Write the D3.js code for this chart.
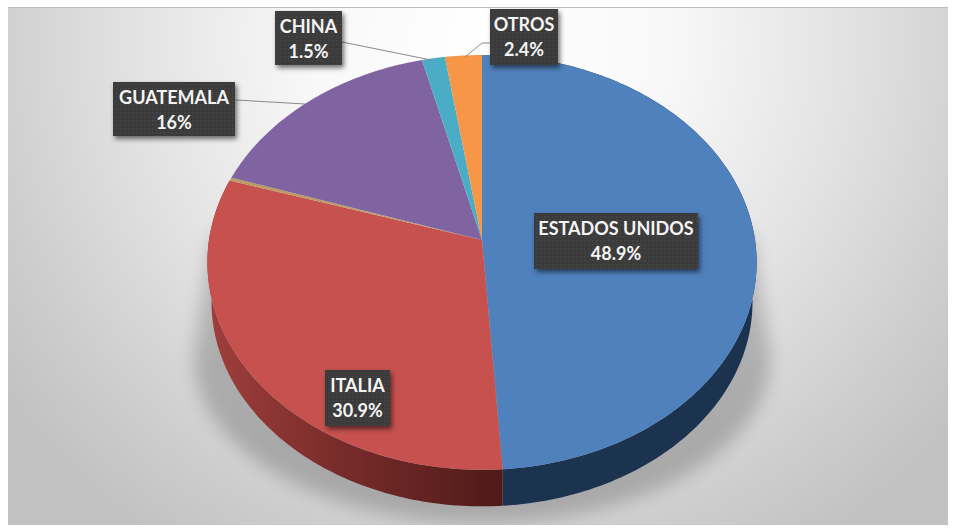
<!DOCTYPE html>
<html><head><meta charset="utf-8">
<script src="https://cdn.jsdelivr.net/npm/d3@7"></script>
<style>html,body{margin:0;background:#fff}svg{display:block}</style></head>
<body><svg width="956" height="529"></svg>
<script>
const categories=["ESTADOS UNIDOS","ITALIA","","GUATEMALA","CHINA","OTROS"];
const shares=[48.9,30.9,0.25,16,1.5,2.4];
const valueLabels=["48.9%","30.9%","","16%","1.5%","2.4%"];
const topColors=["#4f81bd","#c6514f","#bd9a60","#8064a2","#4bacc6","#f79646"];
const labelBoxes=[[534,213,164,56],[325,370,65,56],null,[113,82,122,54],[275,11,67,54],[490,9,68,56]];
const leaders=[null,null,null,[[236,100],[305,104]],[[342,42],[431,60]],[[490,43],[482,43],[465,57]]];

const svg=d3.select("svg");
const defs=svg.append("defs");
const bg=defs.append("radialGradient").attr("id","bg").attr("gradientUnits","userSpaceOnUse")
 .attr("cx",490).attr("cy",40).attr("r",600);
[[0,"#ffffff"],[.3,"#f8f8f8"],[.6,"#e2e2e2"],[.85,"#cdcdcd"],[1,"#c2c2c2"]].forEach(s=>bg.append("stop").attr("offset",s[0]).attr("stop-color",s[1]));
const gr=defs.append("linearGradient").attr("id","wallRed").attr("gradientUnits","userSpaceOnUse").attr("x1",205).attr("x2",503).attr("y1",0).attr("y2",0);
[[0,"#a03f3d"],[.4,"#7c2e2c"],[1,"#4e1a18"]].forEach(s=>gr.append("stop").attr("offset",s[0]).attr("stop-color",s[1]));
defs.append("filter").attr("id","blur").attr("x","-20%").attr("y","-20%").attr("width","140%").attr("height","140%").append("feGaussianBlur").attr("stdDeviation",9);
const f=defs.append("filter").attr("id","bs").attr("x","-20%").attr("y","-20%").attr("width","150%").attr("height","150%");
f.append("feDropShadow").attr("dx",2).attr("dy",3).attr("stdDeviation",2.5).attr("flood-color","#000").attr("flood-opacity",.55);
const pat=defs.append("pattern").attr("id","dots").attr("width",4).attr("height",4).attr("patternUnits","userSpaceOnUse");
pat.append("rect").attr("width",4).attr("height",4).attr("fill","#3a3a3a");
pat.append("rect").attr("width",1.5).attr("height",1.5).attr("fill","#474747");

svg.append("rect").attr("x",8).attr("y",8).attr("width",940).attr("height",517).attr("fill","url(#bg)");
svg.append("line").attr("x1",8).attr("x2",948).attr("y1",7.5).attr("y2",7.5).attr("stroke","#bdbdbd");

// perspective projection of the pie disc
const cx=482,cy=240,R=273,B=205,K=.108,D=40;
function proj(a,drop=0,sc=1){const X=Math.sin(a),Y=-Math.cos(a),s=1/(1-K*Y);
 return [cx+R*sc*X*s, cy+B*sc*Y*s+drop];}
const pie=d3.pie().sort(null)(shares);
function arcPts(d,drop,sc){const n=Math.max(2,Math.ceil((d.endAngle-d.startAngle)*60));
 return d3.range(n+1).map(i=>proj(d.startAngle+(d.endAngle-d.startAngle)*i/n,drop,sc));}
const line=d3.line();
// shadow: wedge widening below the disc, clipped to the plot area
const clip=defs.append("clipPath").attr("id","sc");
clip.append("rect").attr("x",8).attr("y",8).attr("width",940).attr("height",517);
const shadowPts=[[752,235]].concat(d3.range(0,61).map(i=>{const a=Math.PI/2+Math.PI*i/60;
 return [cx+288*Math.sin(a),358-165*Math.cos(a)];}),[[212,235]]);
svg.append("g").attr("clip-path","url(#sc)").append("path").attr("d",line(shadowPts)+"Z").attr("fill","#000").attr("opacity",.2).attr("filter","url(#blur)");
// walls
svg.append("g").selectAll("path").data(pie.slice(0,2)).join("path")
 .attr("d",d=>line(arcPts(d,0,1).concat(arcPts(d,D,.985).reverse()))+"Z")
 .attr("fill",(d,i)=>i===0?"#1c3350":"url(#wallRed)");
// top faces
svg.append("g").selectAll("path").data(pie).join("path")
 .attr("d",d=>line([[cx,cy]].concat(arcPts(d,0,1)))+"Z")
 .attr("fill",(d,i)=>topColors[i]);
// leaders
svg.append("g").selectAll("path").data(leaders.filter(Boolean)).join("path")
 .attr("d",line).attr("fill","none").attr("stroke","#8a8a8a").attr("stroke-width",1);
// labels
const lg=svg.append("g").selectAll("g").data(categories.map((c,i)=>({c,v:valueLabels[i],b:labelBoxes[i]})).filter(d=>d.b)).join("g");
lg.append("rect").attr("x",d=>d.b[0]).attr("y",d=>d.b[1]).attr("width",d=>d.b[2]).attr("height",d=>d.b[3]).attr("fill","url(#dots)").attr("filter","url(#bs)");
const tx=lg.append("text").attr("text-anchor","middle").attr("fill","#f4f4f4").attr("font-family","Lato,'Open Sans',sans-serif").attr("font-weight",700).attr("font-size",18);
tx.append("tspan").attr("x",d=>d.b[0]+d.b[2]/2).attr("y",d=>d.b[1]+22).text(d=>d.c);
tx.append("tspan").attr("x",d=>d.b[0]+d.b[2]/2).attr("y",d=>d.b[1]+47).text(d=>d.v);
</script></body></html>
